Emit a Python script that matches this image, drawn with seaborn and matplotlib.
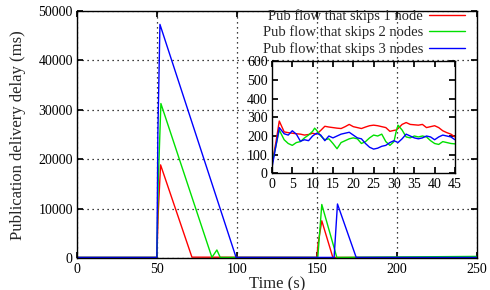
import matplotlib
matplotlib.use("Agg")
import matplotlib.pyplot as plt
import pandas as pd
import seaborn as sns

# main plot: publication delay (ms) over time (s)
red_t = [0, 50, 50.8, 52.3, 71.9, 150, 150.8, 153.1, 160, 250]
red_v = [200, 200, 9000, 18900, 250, 200, 3000, 7600, 200, 200]
green_t = [0, 50, 50.8, 52.5, 84.4, 87.5, 89.6, 150.6, 153.1, 162.5, 250]
green_v = [200, 200, 15000, 31300, 200, 1700, 200, 200, 10900, 200, 400]
blue_t = [0, 50, 50.6, 51.9, 99.5, 160.8, 162.9, 174.6, 250]
blue_v = [200, 200, 25000, 47300, 200, 200, 11000, 200, 200]

# inset: first 45 s
ins_t = [0, 1, 1.8, 3, 4, 5, 6, 7, 8, 9, 10, 10.5, 11, 12, 13, 14, 15, 16, 17, 18,
         19, 20, 21, 22, 23, 24, 25, 26, 27, 28, 29, 30, 30.5, 31, 32, 33, 34, 35,
         36, 37, 38, 39, 40, 41, 42, 43, 44, 45]
ins_red = [50, 170, 280, 222, 218, 215, 212, 210, 205, 208, 215, 212, 210, 230, 252,
           248, 245, 242, 240, 250, 262, 250, 245, 240, 248, 255, 258, 255, 250, 245,
           225, 230, 232, 240, 262, 272, 262, 260, 258, 262, 245, 250, 255, 245, 228,
           218, 210, 195]
ins_green = [50, 150, 232, 180, 160, 150, 165, 170, 190, 205, 225, 242, 230, 200, 180,
             185, 160, 132, 165, 175, 185, 190, 185, 160, 170, 190, 205, 200, 210, 170,
             150, 170, 220, 258, 232, 195, 190, 200, 195, 200, 195, 175, 160, 155, 170,
             165, 160, 158]
ins_blue = [30, 150, 245, 212, 205, 228, 210, 172, 180, 175, 200, 208, 215, 205, 175,
            200, 190, 200, 210, 215, 220, 205, 190, 185, 160, 140, 130, 135, 145, 150,
            165, 175, 170, 165, 185, 210, 200, 190, 185, 190, 200, 195, 180, 195, 205,
            200, 195, 180]

labels = ["Pub flow that skips 1 node", "Pub flow that skips 2 nodes",
          "Pub flow that skips 3 nodes"]
colors = ["#ff0000", "#00e000", "#0000ff"]

sns.set_theme(style="ticks")
plt.rcParams["font.family"] = ["Liberation Serif", "DejaVu Serif"]
plt.rcParams["axes.linewidth"] = 1.0

fig = plt.figure(figsize=(4.9, 2.9), dpi=100)
ax = fig.add_axes([0.157, 0.109, 0.816, 0.853])

main = [(red_t, red_v), (green_t, green_v), (blue_t, blue_v)]
for (t, v), lab, c in zip(main, labels, colors):
    df = pd.DataFrame({"t": t, "v": v})
    sns.lineplot(data=df, x="t", y="v", ax=ax, color=c, lw=1.0, label=lab,
                 estimator=None, sort=False)

ax.set_xlim(0, 250)
ax.set_ylim(0, 50000)
ax.set_xticks(range(0, 251, 50))
ax.set_yticks(range(0, 50001, 10000))
ax.grid(True, color="black", linestyle=(0, (1, 3)), linewidth=0.9)
ax.tick_params(direction="in", top=True, right=True, labelsize=10, length=4,
               colors="black", pad=3)
for s in ax.spines.values():
    s.set_color("black")
ax.set_xlabel("Time (s)", fontsize=12)
ax.set_ylabel("Publication delivery delay (ms)", fontsize=12)
ax.yaxis.set_label_coords(-0.128, 0.5)
ax.xaxis.set_label_coords(0.5, -0.072)
ax.legend(loc="upper right", bbox_to_anchor=(0.99, 1.036), frameon=False,
          markerfirst=False, fontsize=10.5, handlelength=2.5, handletextpad=0.4,
          labelspacing=0.17, borderaxespad=0.1)

ins = fig.add_axes([0.555, 0.402, 0.3735, 0.387])
ins.patch.set_alpha(0)
for v, c in zip([ins_red, ins_green, ins_blue], colors):
    df = pd.DataFrame({"t": ins_t, "v": v})
    sns.lineplot(data=df, x="t", y="v", ax=ins, color=c, lw=1.0,
                 estimator=None, sort=False)
ins.set_xlim(0, 45)
ins.set_ylim(0, 600)
ins.set_xticks(range(0, 46, 5))
ins.set_yticks(range(0, 601, 100))
ins.set_xlabel("")
ins.set_ylabel("")
ins.tick_params(direction="in", top=True, right=True, labelsize=10, length=4,
                colors="black", pad=3)
for s in ins.spines.values():
    s.set_color("black")

fig.savefig("out.png", dpi=100)
plt.close(fig)
